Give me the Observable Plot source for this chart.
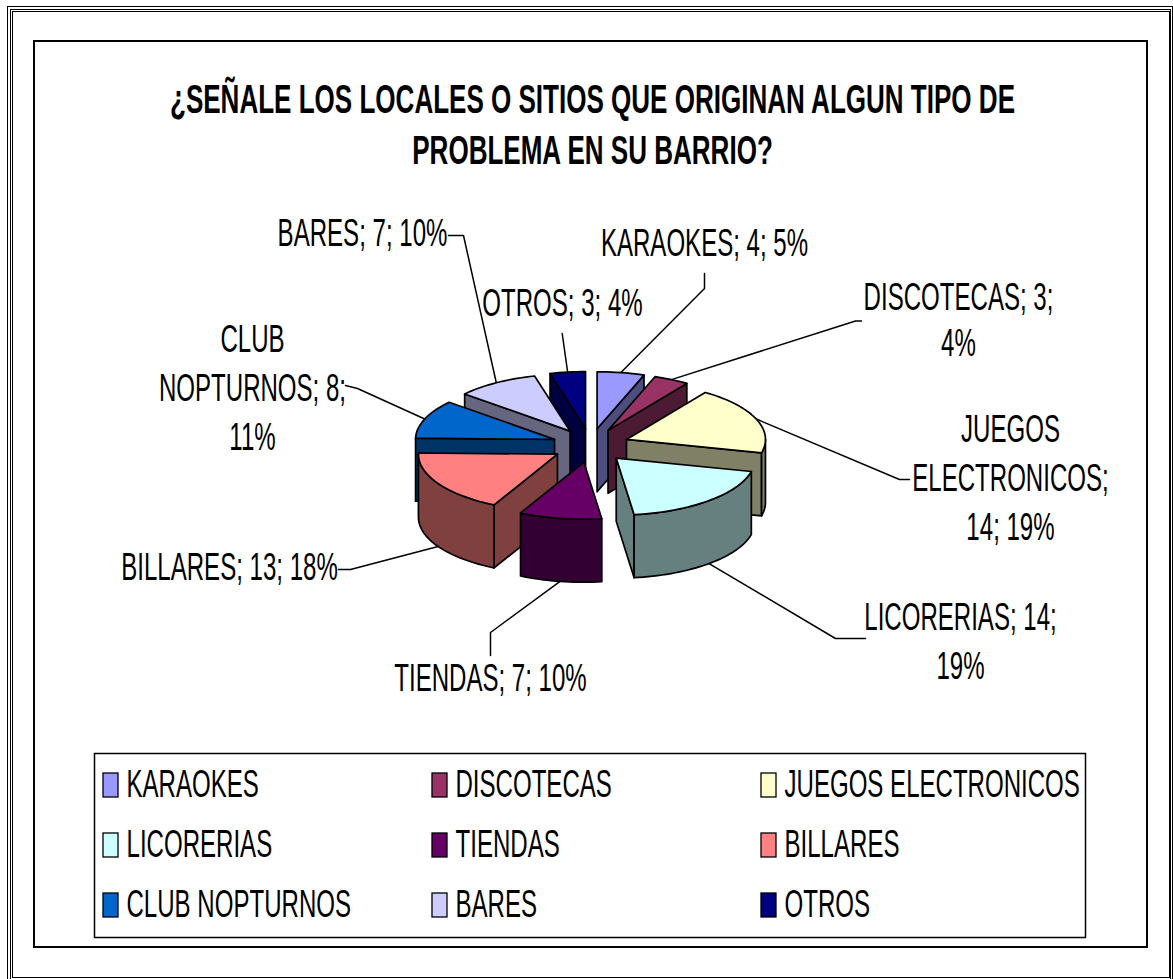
<!DOCTYPE html>
<html>
<head>
<meta charset="utf-8">
<script src="https://cdn.jsdelivr.net/npm/d3@7"></script>
<script src="https://cdn.jsdelivr.net/npm/@observablehq/plot@0.6"></script>
<style>
html,body{margin:0;padding:0;background:#fff}
svg{display:block}
</style>
</head>
<body>
<div id="chart"></div>
<script>
// ---- chart data ----
const categories = ["KARAOKES","DISCOTECAS","JUEGOS ELECTRONICOS","LICORERIAS","TIENDAS","BILLARES","CLUB NOPTURNOS","BARES","OTROS"];
const values = [4,3,14,14,7,13,8,7,3];
const colors = ["#9999FF","#993366","#FFFFCC","#CCFFFF","#660066","#FF8080","#0066CC","#CCCCFF","#000080"];
const titleLines = "¿SEÑALE LOS LOCALES O SITIOS QUE ORIGINAN ALGUN TIPO DE\nPROBLEMA EN SU BARRIO?";

// ---- layout (not data) ----
const W = 1173, H = 979;
const pie = {cx:590, cy:445, rx:139, ry:57, depth:63, ex:38.5, ey:17};
const FONT = "Liberation Sans";
const labelBreaks = [
  s=>s, (s)=>s.replace("; 3; ","; 3;\n"), s=>s.replace("JUEGOS ","JUEGOS\n").replace("; 14; ",";\n14; "),
  s=>s.replace("; 14; ","; 14;\n"), s=>s, s=>s, s=>s.replace("CLUB ","CLUB\n").replace("; 8; ","; 8;\n"), s=>s, s=>s
];
// label centre, line height and the polyline that leaves it toward the slice
const labelAt = [[704,240],[958,318],[1010,475],[960,638],[490,675],[229,564],[252,385],[362,230],[562,300]];
const labelLH = [1.26,1.16,1.26,1.26,1.26,1.26,1.26,1.26,1.26];
const elbows = [
  [[704,273],[704,288]],
  [[861,320.5],[855,320.5]],
  [[909,479],[899,479]],
  [[865,638],[835,638]],
  [[490,655],[490,632]],
  [[338,569],[350,569]],
  [[345,385],[357,388]],
  [[448,235],[463,235]],
  [[561.7,333]]
];
const frames = [
  [7.5,6.5,1172.5,995,1],[10.5,9.5,1170.5,995,1],[12.5,11.5,1169.5,977.5,1],
  [34,41,1147,947,2],[94.5,753.5,1085.5,937.5,1.5]
];
const legendX = [103,432,761], legendY = [773,833,893], swatchW = 15, swatchH = 24;

// ---- geometry derived from the values ----
const total = d3.sum(values);
const rad = d=>d*Math.PI/180;
let cum = 0;
const slices = values.map((v,i)=>{
  const a0 = cum/total*360; cum += v; const a1 = cum/total*360, mid=(a0+a1)/2;
  return {i,name:categories[i],v,a0,a1,mid,color:colors[i],
    ax:pie.cx+pie.ex*Math.sin(rad(mid)), ay:pie.cy-pie.ey*Math.cos(rad(mid))};
});
const rim = (s,a)=>[s.ax+pie.rx*Math.sin(rad(a)), s.ay-pie.ry*Math.cos(rad(a))];
const dark = c=>{const r=d3.rgb(c);return d3.rgb(r.r*.5,r.g*.5,r.b*.5).formatHex();};
const arcRange = (a,b)=>{const n=Math.max(2,Math.ceil((b-a)/2));return d3.range(n+1).map(k=>a+(b-a)*k/n);};

const faces = [];
let fid = 0;
const addFace = (pts,fill)=>{const id=fid++;pts.forEach(p=>faces.push({x:p[0],y:p[1],face:id,fill}));};
[...slices].sort((p,q)=>p.ay-q.ay).forEach(s=>{
  const wall = dark(s.color), A=[s.ax,s.ay], down=p=>[p[0],p[1]+pie.depth];
  if (Math.sin(rad(s.a0))<0){const P=rim(s,s.a0);addFace([A,P,down(P),down(A)],wall);}
  if (Math.sin(rad(s.a1))>0){const P=rim(s,s.a1);addFace([A,P,down(P),down(A)],wall);}
  const lo=Math.max(s.a0,90), hi=Math.min(s.a1,270);
  if (hi>lo){const top=arcRange(lo,hi).map(a=>rim(s,a));addFace([...top,...top.slice().reverse().map(down)],wall);}
  addFace([A,...arcRange(s.a0,s.a1).map(a=>rim(s,a))],s.color);
});

const labels = slices.map(s=>({
  text:labelBreaks[s.i](`${s.name}; ${s.v}; ${Math.round(s.v/total*100)}%`),
  x:labelAt[s.i][0], y:labelAt[s.i][1], lh:labelLH[s.i]
}));
const leaders = slices.flatMap(s=>{
  const e=rim(s,s.mid); if(Math.cos(rad(s.mid))<0) e[1]+=pie.depth;
  return [...elbows[s.i],e].map(p=>({x:p[0],y:p[1],k:s.i}));
});
const legend = slices.map((s,i)=>({name:s.name,color:s.color,
  x:legendX[i%3], y:legendY[Math.floor(i/3)]}));
const frameRows = frames.map(f=>({x1:f[0],y1:f[1],x2:f[2],y2:f[3],w:f[4]}));

const chart = Plot.plot({
  width:W,height:H,margin:0,
  x:{domain:[0,W],range:[0,W],axis:null},
  y:{domain:[0,H],range:[0,H],axis:null},
  color:{type:"identity"},
  style:{background:"#fff",fontFamily:FONT},
  marks:[
    ...frameRows.map(f=>Plot.rect([f],{x1:"x1",x2:"x2",y1:"y1",y2:"y2",fill:"none",stroke:"#000",strokeWidth:f.w})),
    Plot.line(leaders,{x:"x",y:"y",z:"k",stroke:"#000",strokeWidth:1.5,curve:"linear"}),
    Plot.line(faces,{x:"x",y:"y",z:"face",fill:"fill",stroke:"#000",strokeWidth:1.7,strokeLinejoin:"round",curve:"linear-closed"}),
    ...labels.map(l=>Plot.text([l],{x:"x",y:"y",text:"text",fontSize:39,lineHeight:l.lh,fill:"#000",fontFamily:FONT,textAnchor:"middle",lineAnchor:"middle"})),
    Plot.rect(legend,{x1:"x",x2:d=>d.x+swatchW,y1:"y",y2:d=>d.y+swatchH,fill:"color",stroke:"#000",strokeWidth:1.3}),
    Plot.text(legend,{x:d=>d.x+23,y:d=>d.y+11,text:"name",fontSize:39,fill:"#000",fontFamily:FONT,textAnchor:"start",lineAnchor:"middle"}),
    Plot.text([titleLines],{x:()=>592,y:()=>122,text:d=>d,fontSize:40,fontWeight:"bold",lineHeight:1.28,fill:"#000",fontFamily:FONT,textAnchor:"middle",lineAnchor:"middle"})
  ]
});
const squeeze=(sel,k)=>chart.querySelectorAll(sel).forEach(t=>{
  const tr=t.getAttribute("transform")||"";t.setAttribute("transform",tr+` scale(${k},1)`);
});
squeeze("g[aria-label=text]:not([font-weight=bold]) text",0.617);
squeeze("g[aria-label=text][font-weight=bold] text",0.651);
document.getElementById("chart").appendChild(chart);
</script>
</body>
</html>
